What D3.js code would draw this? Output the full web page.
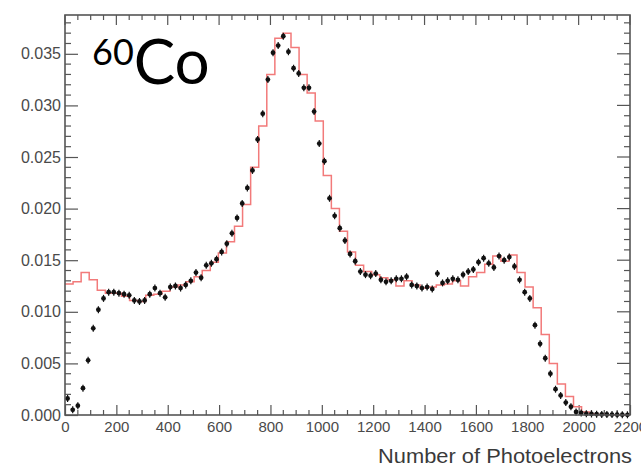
<!DOCTYPE html>
<html>
<head>
<meta charset="utf-8">
<script src="https://cdn.jsdelivr.net/npm/d3@7"></script>
<style>
  html, body { margin: 0; padding: 0; background: #fff; }
  svg { display: block; }
</style>
</head>
<body>
<svg id="chart" width="641" height="468"></svg>
<script>
// Measured photoelectron spectrum (20 p.e. bins, value at bin centre)
const dataCenters = [
  10, 30, 50, 70, 90, 110, 130, 150, 170, 190,
  210, 230, 250, 270, 290, 310, 330, 350, 370, 390,
  410, 430, 450, 470, 490, 510, 530, 550, 570, 590,
  610, 630, 650, 670, 690, 710, 730, 750, 770, 790,
  810, 830, 850, 870, 890, 910, 930, 950, 970, 990,
  1010, 1030, 1050, 1070, 1090, 1110, 1130, 1150, 1170, 1190,
  1210, 1230, 1250, 1270, 1290, 1310, 1330, 1350, 1370, 1390,
  1410, 1430, 1450, 1470, 1490, 1510, 1530, 1550, 1570, 1590,
  1610, 1630, 1650, 1670, 1690, 1710, 1730, 1750, 1770, 1790,
  1810, 1830, 1850, 1870, 1890, 1910, 1930, 1950, 1970, 1990,
  2010, 2030, 2050, 2070, 2090, 2110, 2130, 2150, 2170, 2190
];
const dataValues = [
  0.0016, 0.0005, 0.0009, 0.0026, 0.0053, 0.0084, 0.0102, 0.0113, 0.0119, 0.0119,
  0.0118, 0.0117, 0.0116, 0.0111, 0.0110, 0.0111, 0.0117, 0.0123, 0.0118, 0.0114,
  0.0124, 0.0125, 0.0123, 0.0126, 0.0130, 0.0138, 0.0133, 0.0145, 0.0147, 0.0151,
  0.0158, 0.0166, 0.0176, 0.0191, 0.0205, 0.0220, 0.0237, 0.0267, 0.0292, 0.0325,
  0.0351, 0.0358, 0.0367, 0.0352, 0.0336, 0.0331, 0.0317, 0.0317, 0.0294, 0.0263,
  0.0246, 0.0210, 0.0193, 0.0181, 0.0169, 0.0156, 0.0149, 0.0139, 0.0136, 0.0135,
  0.0137, 0.0131, 0.0129, 0.0130, 0.0132, 0.0132, 0.0134, 0.0126, 0.0125, 0.0123,
  0.0124, 0.0122, 0.0137, 0.0128, 0.0130, 0.0132, 0.0131, 0.0136, 0.0139, 0.0141,
  0.0148, 0.0152, 0.0147, 0.0143, 0.0154, 0.0150, 0.0153, 0.0144, 0.0131, 0.0119,
  0.0113, 0.0087, 0.0069, 0.0055, 0.0040, 0.0025, 0.0019, 0.0012, 0.0008, 0.0003,
  0.0002, 0.00012, 0.0001, 0.00008, 0.00006, 0.00005, 0.00004, 0.00003, 0.00003, 0.00002
];

// Simulated spectrum, 70 equal bins over the axis range (value per bin)
const simValues = [
  0.0127, 0.0129, 0.0138, 0.0131, 0.0121, 0.0118, 0.0118, 0.0115, 0.0111, 0.0110,
  0.0116, 0.0117, 0.0120, 0.0124, 0.0126, 0.0129, 0.0134, 0.0140, 0.0148, 0.0157,
  0.0168, 0.0183, 0.0204, 0.0240, 0.0280, 0.0330, 0.0365, 0.0370, 0.0356, 0.0330,
  0.0312, 0.0285, 0.0232, 0.0200, 0.0178, 0.0158, 0.0145, 0.0139, 0.0136, 0.0133,
  0.0131, 0.0125, 0.0130, 0.0126, 0.0123, 0.0124, 0.0126, 0.0127, 0.0130, 0.0125,
  0.0134, 0.0138, 0.0146, 0.0154, 0.0149, 0.0155, 0.0138, 0.0124, 0.0104, 0.0078,
  0.0050, 0.0030, 0.0018, 0.0008, 0.0003, 0.0001, 0.00005, 0.00003, 0.00002, 0.00002
];

const xTickValues = [0, 200, 400, 600, 800, 1000, 1200, 1400, 1600, 1800, 2000, 2200];
const yTickValues = [0, 0.005, 0.010, 0.015, 0.020, 0.025, 0.030, 0.035];
const xDomain = [0, 2200];
const yDomain = [0, 0.03876];
const xTitle = "Number of Photoelectrons";

const svg = d3.select("#chart");
const frame = { left: 65, right: 630, top: 15, bottom: 415 };

const x = d3.scaleLinear().domain(xDomain).range([frame.left, frame.right]);
const y = d3.scaleLinear().domain(yDomain).range([frame.bottom, frame.top]);

const axisColor = "#555";
const labelFont = "'Liberation Sans', Arial, Helvetica, sans-serif";

// Minor tick positions
const xMinor = d3.range(xDomain[0], xDomain[1] + 1, 50).filter(v => v % 200 !== 0);
const yMinor = d3.range(0, 39).map(i => i / 1000).filter(v => v <= yDomain[1] && Math.round(v * 1000) % 5 !== 0);

// Bottom axis with inward ticks
const gx = svg.append("g").attr("transform", `translate(0,${frame.bottom})`);
gx.call(d3.axisBottom(x).tickValues(xTickValues).tickSize(-10).tickPadding(8).tickFormat(d3.format("d")));
gx.selectAll(".tick line").attr("stroke", axisColor).attr("stroke-width", 1.2);
gx.selectAll(".tick text").attr("font-family", labelFont).attr("font-size", 15).attr("fill", "#4a4a4a").attr("dy", "0.62em");
gx.select(".domain").remove();
gx.selectAll(".minor").data(xMinor).enter().append("line")
  .attr("x1", d => x(d)).attr("x2", d => x(d)).attr("y1", 0).attr("y2", -5)
  .attr("stroke", axisColor).attr("stroke-width", 1.2);

// Top ticks
const gTop = svg.append("g");
gTop.selectAll("line.maj").data(xTickValues).enter().append("line")
  .attr("x1", d => x(d)).attr("x2", d => x(d)).attr("y1", frame.top).attr("y2", frame.top + 10)
  .attr("stroke", axisColor).attr("stroke-width", 1.2);
gTop.selectAll("line.min").data(xMinor).enter().append("line")
  .attr("x1", d => x(d)).attr("x2", d => x(d)).attr("y1", frame.top).attr("y2", frame.top + 5)
  .attr("stroke", axisColor).attr("stroke-width", 1.2);

// Left axis with inward ticks
const gy = svg.append("g").attr("transform", `translate(${frame.left},0)`);
gy.call(d3.axisLeft(y).tickValues(yTickValues).tickSize(-13).tickPadding(4).tickFormat(d3.format(".3f")));
gy.selectAll(".tick line").attr("stroke", axisColor).attr("stroke-width", 1.2);
gy.selectAll(".tick text").attr("font-family", labelFont).attr("font-size", 16).attr("fill", "#4a4a4a");
gy.select(".domain").remove();
gy.selectAll(".minor").data(yMinor).enter().append("line")
  .attr("x1", 0).attr("x2", 6).attr("y1", d => y(d)).attr("y2", d => y(d))
  .attr("stroke", axisColor).attr("stroke-width", 1.2);

// Right ticks
const gRight = svg.append("g");
gRight.selectAll("line.maj").data(yTickValues).enter().append("line")
  .attr("x1", frame.right).attr("x2", frame.right - 13).attr("y1", d => y(d)).attr("y2", d => y(d))
  .attr("stroke", axisColor).attr("stroke-width", 1.2);
gRight.selectAll("line.min").data(yMinor).enter().append("line")
  .attr("x1", frame.right).attr("x2", frame.right - 6).attr("y1", d => y(d)).attr("y2", d => y(d))
  .attr("stroke", axisColor).attr("stroke-width", 1.2);

// Simulated histogram as a step line
const simWidth = (xDomain[1] - xDomain[0]) / simValues.length;
const simPts = simValues.map((v, i) => [xDomain[0] + i * simWidth, v]);
simPts.push([xDomain[1], simValues[simValues.length - 1]]);
svg.append("path")
  .datum(simPts)
  .attr("fill", "none")
  .attr("stroke", "#f27a7a")
  .attr("stroke-width", 1.5)
  .attr("d", d3.line().x(d => x(d[0])).y(d => y(d[1])).curve(d3.curveStepAfter));

// Data points with short vertical error bars
const pts = svg.append("g");
const data = dataCenters.map((c, i) => ({ c, v: dataValues[i] }));
pts.selectAll("line").data(data).enter().append("line")
  .attr("x1", d => x(d.c)).attr("x2", d => x(d.c))
  .attr("y1", d => y(d.v) - 3.5).attr("y2", d => y(d.v) + 3.5)
  .attr("stroke", "#111").attr("stroke-width", 1.2);
pts.selectAll("circle").data(data).enter().append("circle")
  .attr("cx", d => x(d.c)).attr("cy", d => y(d.v)).attr("r", 2.4)
  .attr("fill", "#111");

// Frame
svg.append("rect")
  .attr("x", frame.left).attr("y", frame.top)
  .attr("width", frame.right - frame.left).attr("height", frame.bottom - frame.top)
  .attr("fill", "none").attr("stroke", axisColor).attr("stroke-width", 1.6);

// Axis title
svg.append("text")
  .attr("x", 632).attr("y", 463)
  .attr("text-anchor", "end")
  .attr("font-family", labelFont).attr("font-size", 20)
  .attr("fill", "#3a3a3a")
  .attr("textLength", 254).attr("lengthAdjust", "spacingAndGlyphs")
  .text(xTitle);

// Isotope label
const iso = svg.append("text")
  .attr("x", 92).attr("y", 84)
  .attr("font-family", "Lato, 'Open Sans', sans-serif")
  .attr("fill", "#000");
iso.append("tspan").attr("font-size", 36).attr("dy", -19).text("60");
iso.append("tspan").attr("font-size", 62).attr("dy", 19).attr("dx", 0).text("Co");
</script>
</body>
</html>
